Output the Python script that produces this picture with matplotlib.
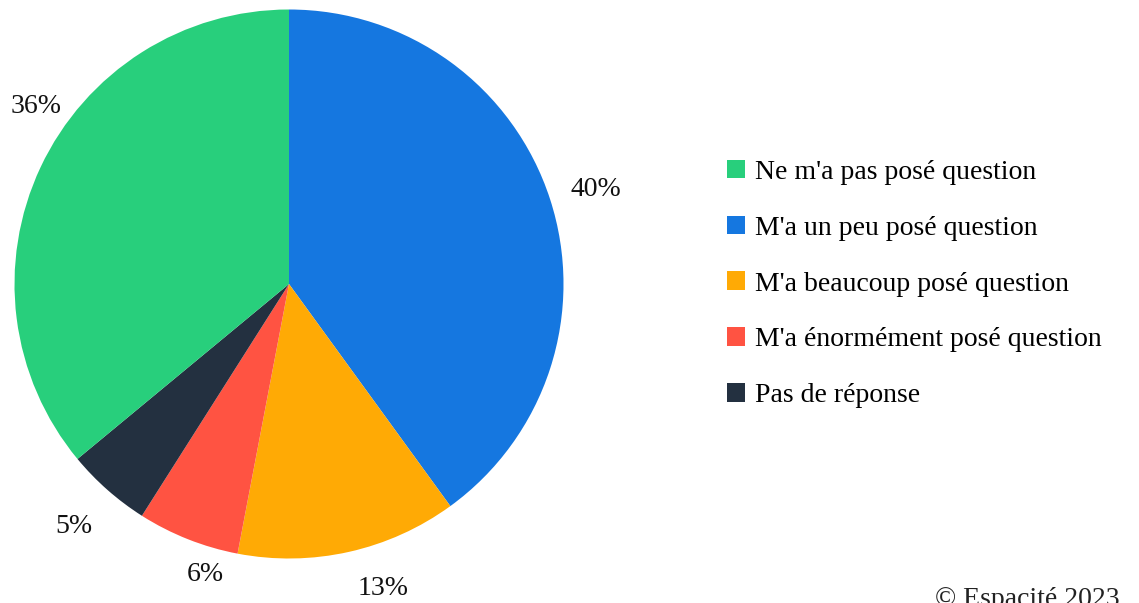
import matplotlib.pyplot as plt
from matplotlib.patches import Patch

# Data (order as drawn, clockwise from the top)
labels = ["M'a un peu posé question", "M'a beaucoup posé question",
          "M'a énormément posé question", "Pas de réponse", "Ne m'a pas posé question"]
values = [40, 13, 6, 5, 36]
colors = ['#1577E0', '#FFAA05', '#FF5342', '#233040', '#28CF7C']

# Legend order
legend_labels = ["Ne m'a pas posé question", "M'a un peu posé question",
                 "M'a beaucoup posé question", "M'a énormément posé question",
                 "Pas de réponse"]

# where the percentage labels sit (axes units, pie radius = 1)
label_pos = [(1.118, 0.343), (0.342, -1.110), (-0.306, -1.059),
             (-0.783, -0.884), (-0.922, 0.646)]

plt.rcParams['font.family'] = ['Liberation Serif', 'DejaVu Serif']

W, H = 1139, 603
fig = plt.figure(figsize=(W / 100, H / 100), dpi=100)

# pie axes: center (289, 284), radius ~274.5 px
r = 274.5
ax = fig.add_axes([(289 - r) / W, (H - 284 - r) / H, 2 * r / W, 2 * r / H])
wedges, texts, autotexts = ax.pie(
    values, colors=colors, startangle=90, counterclock=False,
    autopct='%1.0f%%', pctdistance=1.16, radius=1,
    wedgeprops={'linewidth': 0},
    textprops={'fontsize': 20, 'color': '#111111'})
for t, pos in zip(autotexts, label_pos):
    t.set_position(pos)
    t.set_ha('center')
    t.set_va('center')
ax.set_xlim(-1, 1)
ax.set_ylim(-1, 1)
ax.set_aspect('equal')
ax.axis('off')

color_map = dict(zip(labels, colors))
handles = [Patch(facecolor=color_map[l], edgecolor='none') for l in legend_labels]
fig.legend(handles, legend_labels, loc='center left',
           bbox_to_anchor=(727 / W, 1 - 284 / H), frameon=False,
           borderaxespad=0, borderpad=0,
           fontsize=20, handlelength=0.65, handleheight=0.65,
           handletextpad=0.36, labelspacing=1.11)

fig.text(1120 / W, (H - 587) / H, '© Espacité 2023', ha='right', va='top',
         fontsize=20, color='#222222')

fig.savefig('out.png', dpi=100)
